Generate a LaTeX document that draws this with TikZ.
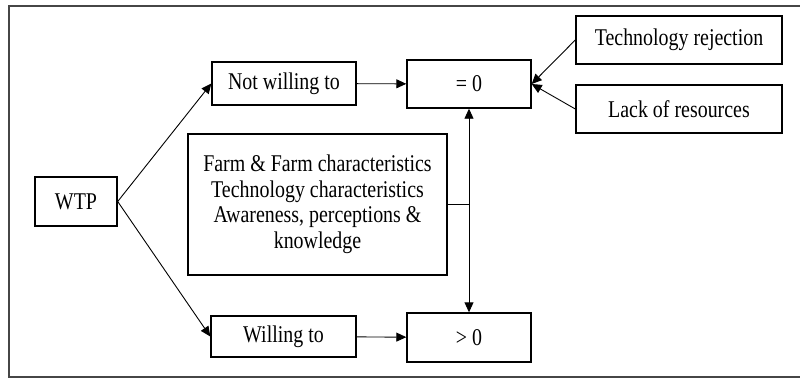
\documentclass[tikz,border=0pt]{standalone}
\usepackage{fontspec}
\setmainfont{Liberation Serif}[FakeStretch=0.83]
\usetikzlibrary{arrows.meta, positioning}
\definecolor{framegray}{RGB}{70, 70, 70}
\tikzset{
    boxnode/.style={draw, line width=1.4pt, align=center, inner sep=2pt, font=\fontsize{24}{25.5}\selectfont},
    arr/.style={-{Triangle[length=10pt, width=9pt]}, line width=0.9pt},
}

\begin{document}
\begin{tikzpicture}[x=1pt, y=-1pt]
        \useasboundingbox (0,0) rectangle (800,380);
        \draw[framegray, line width=1.5pt] (800,6) -- (9,6) -- (9,377) -- (800,377);

        % boxes
        \node[boxnode, minimum width=82pt, minimum height=49pt] (wtp) at (76,201.5) {WTP};
        \node[boxnode, minimum width=144pt, minimum height=43pt] (notwilling) at (284,83.5) {Not willing to};
        \node[boxnode, minimum width=145pt, minimum height=41pt] (willing) at (283.5,336.5) {Willing to};
        \node[boxnode, minimum width=124pt, minimum height=48pt] (zero) at (469,84) {= 0};
        \node[boxnode, minimum width=124pt, minimum height=49pt] (positive) at (469,337.5) {> 0};
        \node[boxnode, minimum width=206pt, minimum height=48pt] (rejection) at (679,40) {Technology rejection};
        \node[boxnode, minimum width=206pt, minimum height=48pt] (resources) at (679,109) {Lack of resources};
        \node[boxnode, minimum width=259pt, minimum height=141pt] (factors) at (317.5,204.5) {
            Farm \& Farm characteristics\\
            Technology characteristics\\
            Awareness, perceptions \&\\
            knowledge
        };

        % connectors
        \draw[arr] (wtp.east) -- (notwilling.west);
        \draw[arr] (wtp.east) -- (willing.west);
        \draw[arr] (notwilling) -- (zero);
        \draw[arr] (willing) -- (positive);
        \draw[arr] (rejection.west) -- (zero.east);
        \draw[arr] (resources.west) -- (zero.east);
        \coordinate (junction) at (zero.south |- factors.east);
        \draw[line width=0.9pt] (factors.east) -- (junction);
        \draw[arr] (junction) -- (zero.south);
        \draw[arr] (junction) -- (positive.north);
    \end{tikzpicture}
\end{document}
